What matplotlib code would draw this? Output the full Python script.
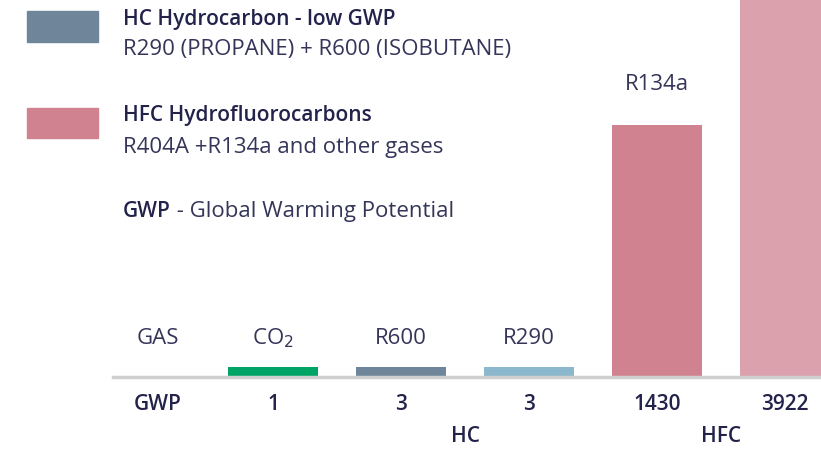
import numpy as np
import matplotlib
matplotlib.use('Agg')
import matplotlib.pyplot as plt
from matplotlib.patches import Rectangle

plt.rcParams['font.family'] = ['Open Sans', 'DejaVu Sans']

# data
gases = ['CO$_2$', 'R600', 'R290', 'R134a', 'R404A']
gwp = [1, 3, 3, 1430, 3922]
bar_colors = ['#00a464', '#6f8599', '#8bb8cc', '#d08290', '#dba2ae']
groups = ['HC', 'HFC']
# smallest height drawn so that near-zero GWP bars stay visible
min_visible = 55

W, H = 821, 450
navy = '#22224a'
grey_txt = '#35355a'
fs_reg = 16
fs_bold = 15

fig = plt.figure(figsize=(W / 100, H / 100), dpi=100)
ax = fig.add_axes([113 / W, (H - 377) / H, (W - 113) / W, 377 / H])

x = np.arange(1, len(gases) + 1)
heights = np.maximum(gwp, min_visible)
ax.bar(x, heights, width=0.70, color=bar_colors, zorder=2)

ax.set_xlim(-0.25, 5.28)
ax.set_ylim(0, 2140)
for s in ['top', 'right', 'left']:
    ax.spines[s].set_visible(False)
ax.spines['bottom'].set_color('#cfcfcf')
ax.spines['bottom'].set_linewidth(2.5)
ax.set_xticks([])
ax.set_yticks([])

tr = ax.get_xaxis_transform()
# header row above the baseline
ax.text(0.1, 0.103, 'GAS', transform=tr, ha='center', va='center', fontsize=fs_reg, color=grey_txt)
for xi, name, g in zip(x, gases, gwp):
    if g < 100:
        ax.text(xi, 0.103, name, transform=tr, ha='center', va='center', fontsize=fs_reg, color=grey_txt)
    elif g < 2000:
        ax.annotate(name, (xi, g), xytext=(0, 29.5), textcoords='offset points',
                    ha='center', va='center', fontsize=fs_reg, color=grey_txt)

# GWP row under the baseline
ax.text(0.1, -0.074, 'GWP', transform=tr, ha='center', va='center', fontsize=fs_bold,
        fontweight='semibold', color=navy, clip_on=False)
for xi, g in zip(x, gwp):
    ax.text(xi, -0.074, str(g), transform=tr, ha='center', va='center', fontsize=fs_bold,
            fontweight='semibold', color=navy, clip_on=False)

# group labels between bars
ax.text((x[1] + x[2]) / 2, -0.159, groups[0], transform=tr, ha='center', va='center',
        fontsize=fs_bold, fontweight='semibold', color=navy, clip_on=False)
ax.text((x[3] + x[4]) / 2, -0.159, groups[1], transform=tr, ha='center', va='center',
        fontsize=fs_bold, fontweight='semibold', color=navy, clip_on=False)

# legend block, top left
def fx(px):
    return px / W

def fy(py):
    return 1 - py / H

fig.patches.append(Rectangle((fx(27), fy(42)), 71 / W, 31 / H, transform=fig.transFigure,
                             color=bar_colors[1], zorder=3))
fig.patches.append(Rectangle((fx(27), fy(138)), 71 / W, 30 / H, transform=fig.transFigure,
                             color=bar_colors[3], zorder=3))

fig.text(fx(123), fy(20), 'HC Hydrocarbon - low GWP', ha='left', va='center',
         fontsize=fs_bold, fontweight='semibold', color=navy)
fig.text(fx(123), fy(50), 'R290 (PROPANE) + R600 (ISOBUTANE)', ha='left', va='center',
         fontsize=fs_reg, color=grey_txt)
fig.text(fx(123), fy(116), 'HFC Hydrofluorocarbons', ha='left', va='center',
         fontsize=fs_bold, fontweight='semibold', color=navy)
fig.text(fx(123), fy(147), 'R404A +R134a and other gases', ha='left', va='center',
         fontsize=fs_reg, color=grey_txt)
t = fig.text(fx(123), fy(212), 'GWP', ha='left', va='center',
             fontsize=fs_bold, fontweight='semibold', color=navy)
fig.canvas.draw()
bb = t.get_window_extent()
fig.text(bb.x1 / W, fy(212), ' - Global Warming Potential', ha='left', va='center',
         fontsize=fs_reg, color=grey_txt)

fig.savefig('out.png', dpi=100)
